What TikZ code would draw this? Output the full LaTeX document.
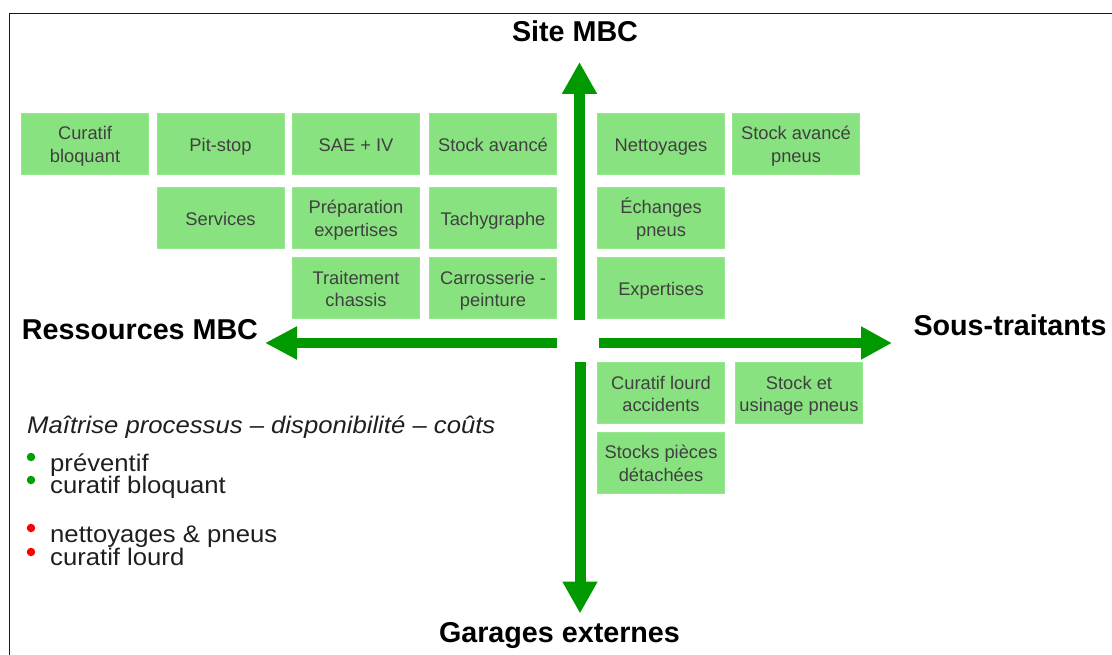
\documentclass[tikz,border=0pt]{standalone}
\usepackage{fontspec}
\setmainfont{Liberation Sans}
\newfontfamily\legendfont[FakeStretch=1.07]{Liberation Sans}
\usetikzlibrary{arrows.meta}
\definecolor{boxgreen}{RGB}{137,226,128}
\definecolor{boxborder}{RGB}{150,232,140}
\definecolor{arrowgreen}{RGB}{0,153,0}
\definecolor{boxtext}{RGB}{64,64,64}
\definecolor{dotgreen}{RGB}{0,160,0}
\definecolor{dotred}{RGB}{255,0,0}
\definecolor{framecol}{RGB}{25,25,25}
\newcommand\celltext[1]{\raisebox{-3pt}[\height][\depth]{\begin{tabular}{@{}c@{}}#1\end{tabular}}}
\begin{document}
\begin{tikzpicture}[x=1pt,y=-1pt,
 cell/.style={fill=boxgreen, draw=boxborder, line width=0.8pt, minimum width=127pt, minimum height=61pt, inner sep=0pt, text=boxtext, font=\fontsize{18.3}{22.6}\selectfont},
 axislabel/.style={font=\fontsize{28.7}{34}\selectfont\bfseries, anchor=base, inner sep=0pt},
 bigarrow/.style={draw=arrowgreen, line width=11pt, -{Triangle[length=32pt,width=33pt]}},
 legend/.style={font=\legendfont\fontsize{24}{26}\selectfont, anchor=base west, inner sep=0pt, text=black!88},
 dot/.style={circle, inner sep=0pt, minimum size=8.5pt}
]
\useasboundingbox (0,0) rectangle (1112,655);
% frame
\draw[framecol, line width=1.4pt] (9.5,655) -- (9.5,13.5) -- (1112,13.5);

% boxes
\node[cell] (cb) at (85,143.5) {\celltext{Curatif\\bloquant}};
\node[cell] (ps) at (220.5,143.5) {\celltext{Pit-stop}};
\node[cell] (sae) at (356,143.5) {\celltext{SAE + IV}};
\node[cell] (sa) at (493,143.5) {\celltext{Stock avancé}};
\node[cell] (net) at (661,143.5) {\celltext{Nettoyages}};
\node[cell] (sap) at (796,143.5) {\celltext{Stock avancé\\pneus}};
\node[cell] (serv) at (220.5,217.5) {\celltext{Services}};
\node[cell] (prep) at (356,217.5) {\celltext{Préparation\\expertises}};
\node[cell] (tach) at (493,217.5) {\celltext{Tachygraphe}};
\node[cell] (ech) at (661,217.5) {\celltext{Échanges\\pneus}};
\node[cell] (trait) at (356,288) {\celltext{Traitement\\chassis}};
\node[cell] (carr) at (493,288) {\celltext{Carrosserie -\\peinture}};
\node[cell] (exp) at (661,288) {\celltext{Expertises}};
\node[cell] (cl) at (661,393) {\celltext{Curatif lourd\\accidents}};
\node[cell] (seu) at (799,393) {\celltext{Stock et\\usinage pneus}};
\node[cell] (spd) at (661,462.5) {\celltext{Stocks pièces\\détachées}};

% axis labels
\node[axislabel] (site) at (575,41.5) {Site MBC};
\node[axislabel] (sous) at (1010,336) {Sous-traitants};
\node[axislabel] (res) at (140,340) {Ressources MBC};
\node[axislabel] (gar) at (559.5,642) {Garages externes};

% arrows
\coordinate (upS) at (579.5,320);
\coordinate (upT) at (579.5,62);
\coordinate (dnS) at (580,362);
\coordinate (dnT) at (580,613.5);
\coordinate (lfS) at (557,343);
\coordinate (lfT) at (265,343);
\coordinate (rtS) at (599,343);
\coordinate (rtT) at (892,343);
\draw[bigarrow] (upS) -- (upT);
\draw[bigarrow] (dnS) -- (dnT);
\draw[bigarrow, line width=10.5pt, -{Triangle[length=32pt,width=31pt]}] (lfS) -- (lfT);
\draw[bigarrow, line width=10.5pt, -{Triangle[length=31pt,width=31pt]}] (rtS) -- (rtT);

% legend
\node[legend] (title) at (27,433) {\itshape Maîtrise processus – disponibilité – coûts};
\node[dot, fill=dotgreen] (d1) at (31,457) {};
\node[dot, fill=dotgreen] (d2) at (31,480) {};
\node[dot, fill=dotred] (d3) at (31,528) {};
\node[dot, fill=dotred] (d4) at (31,552) {};
\node[legend] (l1) at (50,471) {préventif};
\node[legend] (l2) at (50,493) {curatif bloquant};
\node[legend] (l3) at (50,542) {nettoyages \& pneus};
\node[legend] (l4) at (50,565) {curatif lourd};
\end{tikzpicture}
\end{document}
